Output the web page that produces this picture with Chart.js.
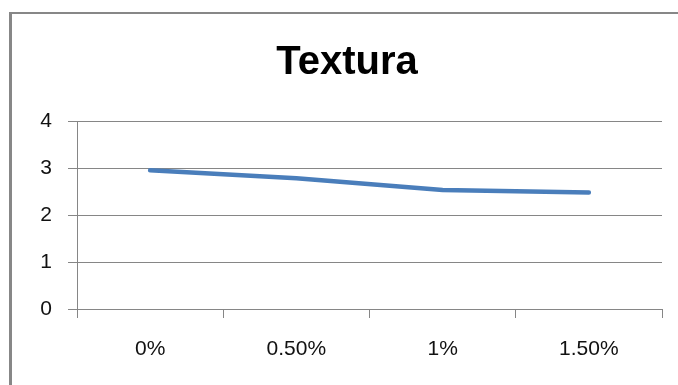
<!DOCTYPE html>
<html lang="es">
<head>
  <meta charset="UTF-8" />
  <title>Textura</title>
  <style>
    html, body {
      margin: 0;
      padding: 0;
      background: #ffffff;
      overflow: hidden;
    }
    #wrap {
      position: relative;
      width: 678px;
      height: 385px;
    }
    #wrap canvas {
      position: absolute;
      top: 0;
      left: 0;
    }
    /* chart frame, only left and top edges are inside the window */
    .frame {
      position: absolute;
      left: 9px;
      top: 12px;
      width: 700px;
      height: 400px;
      border-left: 3px solid #878787;
      border-top: 2px solid #878787;
      pointer-events: none;
    }
  </style>
</head>
<body>
  <div id="wrap">
    <canvas id="chart" width="678" height="385"></canvas>
    <div class="frame"></div>
  </div>

  <script src="https://cdn.jsdelivr.net/npm/chart.js"></script>
  <script>
    const categories = ['0%', '0.50%', '1%', '1.50%'];
    const texturaValues = [2.95, 2.78, 2.53, 2.48];
    const yTicks = [0, 1, 2, 3, 4];

    const GRID_COLOR = '#868686';
    const LINE_COLOR = '#4A7EBB';
    const TEXT_COLOR = '#111111';

    const chart = new Chart(document.getElementById('chart').getContext('2d'), {
      type: 'line',
      data: {
        labels: categories,
        datasets: [{
          label: 'Textura',
          data: texturaValues,
          borderColor: LINE_COLOR,
          backgroundColor: LINE_COLOR,
          borderWidth: 4.5,
          borderCapStyle: 'round',
          borderJoinStyle: 'round',
          pointRadius: 0,
          tension: 0,
          fill: false
        }]
      },
      options: {
        responsive: false,
        animation: false,
        layout: {
          padding: { left: 32, right: 16, top: 0, bottom: 0 }
        },
        plugins: {
          legend: { display: false },
          tooltip: { enabled: false },
          title: {
            display: true,
            text: 'Textura',
            color: '#000000',
            font: { family: "'Liberation Sans', Arial, sans-serif", size: 40, weight: 'bold', lineHeight: 1.2 },
            padding: { top: 39, bottom: 34 }
          }
        },
        scales: {
          x: {
            offset: true,
            afterFit: (scale) => { scale.height = 76; },
            grid: {
              offset: true,
              drawOnChartArea: false,
              drawTicks: true,
              tickLength: 9,
              color: GRID_COLOR,
              lineWidth: 1
            },
            border: { display: true, color: GRID_COLOR, width: 1 },
            ticks: {
              color: TEXT_COLOR,
              padding: 19,
              maxRotation: 0,
              font: { family: "'Liberation Sans', Arial, sans-serif", size: 21 }
            }
          },
          y: {
            min: 0,
            max: 4,
            afterFit: (scale) => { scale.width = 45; },
            afterBuildTicks: (scale) => { scale.ticks = yTicks.map(v => ({ value: v })); },
            grid: {
              drawTicks: true,
              tickLength: 9,
              color: GRID_COLOR,
              lineWidth: 1
            },
            border: { display: true, color: GRID_COLOR, width: 1 },
            ticks: {
              color: TEXT_COLOR,
              padding: 16,
              font: { family: "'Liberation Sans', Arial, sans-serif", size: 21 }
            }
          }
        }
      }
    });
  </script>
</body>
</html>
